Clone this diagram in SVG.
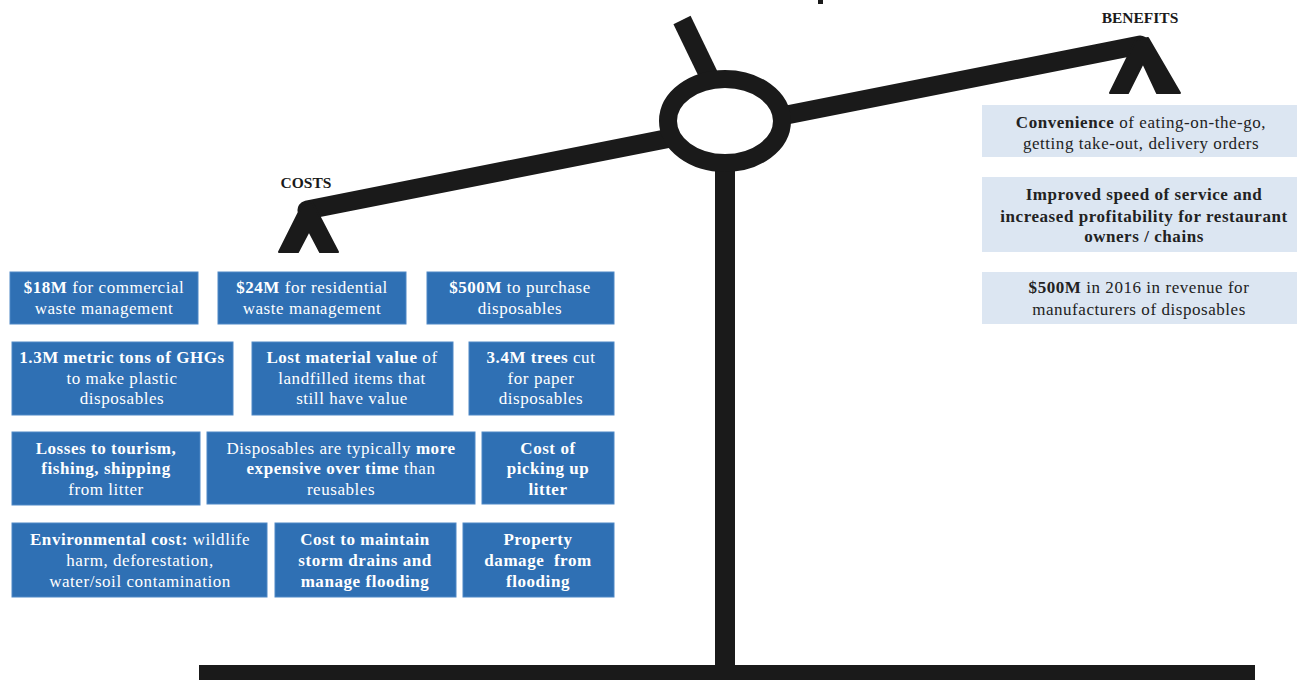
<svg xmlns="http://www.w3.org/2000/svg" width="1297" height="680" viewBox="0 0 1297 680">
<style>
.cb{fill:#2F70B4;stroke:#4F88C6;stroke-width:1}
.bb{fill:#DCE6F2}
.t{font-family:"Liberation Serif","Times New Roman",serif;font-size:17px;letter-spacing:0.55px;text-anchor:middle}
.w{fill:#ffffff}
.d{fill:#222222}
.b{font-weight:bold}
.lbl{font-family:"Liberation Serif","Times New Roman",serif;font-size:15.5px;font-weight:bold;fill:#1a1a1a;text-anchor:middle}
.ink{fill:#1a1a1a}
</style>
<rect width="1297" height="680" fill="#ffffff"/>
<g id="scale">
  <rect class="ink" x="818" y="0" width="5" height="4"/>
  <line x1="682" y1="20" x2="710" y2="78" stroke="#1a1a1a" stroke-width="19"/>
  <rect class="ink" x="715" y="160" width="20" height="510"/>
  <rect class="ink" x="199" y="665" width="1056" height="15"/>
  <line x1="307" y1="210" x2="1140" y2="45" stroke="#1a1a1a" stroke-width="19" stroke-linecap="round"/>
  <ellipse cx="725" cy="121" rx="57" ry="42" fill="#ffffff" stroke="#1a1a1a" stroke-width="18"/>
  <polygon class="ink" points="279,252 302,206 312,202 338,252 320,252 309,231 298,252" stroke="#1a1a1a" stroke-width="2" stroke-linejoin="round"/>
  <polygon class="ink" points="1110,93 1136,40 1148,38 1180,93 1157,93 1143,63 1128,93" stroke="#1a1a1a" stroke-width="2" stroke-linejoin="round"/>
  <text class="lbl" x="306" y="188">COSTS</text>
  <text class="lbl" x="1140" y="23">BENEFITS</text>
</g>
<g id="connectors"></g>
<g id="cost1"><rect class="cb" x="10" y="272" width="188" height="52"/>
  <text class="t w" x="104" y="293"><tspan class="b">$18M</tspan> for commercial</text>
  <text class="t w" x="104" y="314">waste management</text></g>
<g id="cost2"><rect class="cb" x="218" y="272" width="188" height="52"/>
  <text class="t w" x="312" y="293"><tspan class="b">$24M</tspan> for residential</text>
  <text class="t w" x="312" y="314">waste management</text></g>
<g id="cost3"><rect class="cb" x="427" y="272" width="187" height="52"/>
  <text class="t w" x="520" y="293"><tspan class="b">$500M</tspan> to purchase</text>
  <text class="t w" x="520" y="314">disposables</text></g>
<g id="cost4"><rect class="cb" x="12" y="342" width="221" height="73"/>
  <text class="t w b" x="122" y="363">1.3M metric tons of GHGs</text>
  <text class="t w" x="122" y="383.5">to make plastic</text>
  <text class="t w" x="122" y="404">disposables</text></g>
<g id="cost5"><rect class="cb" x="252" y="342" width="201" height="73"/>
  <text class="t w" x="352" y="363"><tspan class="b">Lost material value</tspan> of</text>
  <text class="t w" x="352" y="383.5">landfilled items that</text>
  <text class="t w" x="352" y="404">still have value</text></g>
<g id="cost6"><rect class="cb" x="469" y="342" width="145" height="73"/>
  <text class="t w" x="541" y="363"><tspan class="b">3.4M trees</tspan> cut</text>
  <text class="t w" x="541" y="383.5">for paper</text>
  <text class="t w" x="541" y="404">disposables</text></g>
<g id="cost7"><rect class="cb" x="12" y="432" width="188" height="73"/>
  <text class="t w b" x="106" y="453.5">Losses to tourism,</text>
  <text class="t w b" x="106" y="474">fishing, shipping</text>
  <text class="t w" x="106" y="494.5">from litter</text></g>
<g id="cost8"><rect class="cb" x="207" y="432" width="268" height="72"/>
  <text class="t w" x="341" y="453.5">Disposables are typically <tspan class="b">more</tspan></text>
  <text class="t w" x="341" y="474"><tspan class="b">expensive over time</tspan> than</text>
  <text class="t w" x="341" y="494.5">reusables</text></g>
<g id="cost9"><rect class="cb" x="482" y="432" width="132" height="72"/>
  <text class="t w b" x="548" y="453.5">Cost of</text>
  <text class="t w b" x="548" y="474">picking up</text>
  <text class="t w b" x="548" y="494.5">litter</text></g>
<g id="cost10"><rect class="cb" x="12" y="523" width="255" height="74"/>
  <text class="t w" x="140" y="544.5"><tspan class="b">Environmental cost:</tspan> wildlife</text>
  <text class="t w" x="140" y="566">harm, deforestation,</text>
  <text class="t w" x="140" y="587">water/soil contamination</text></g>
<g id="cost11"><rect class="cb" x="275" y="523" width="181" height="74"/>
  <text class="t w b" x="365" y="544.5">Cost to maintain</text>
  <text class="t w b" x="365" y="566">storm drains and</text>
  <text class="t w b" x="365" y="587">manage flooding</text></g>
<g id="cost12"><rect class="cb" x="463" y="523" width="151" height="74"/>
  <text class="t w b" x="538" y="544.5">Property</text>
  <text class="t w b" x="538" y="566">damage&#160; from</text>
  <text class="t w b" x="538" y="587">flooding</text></g>
<g id="benefit1"><rect class="bb" x="982" y="105" width="315" height="52"/>
  <text class="t d" x="1141" y="128"><tspan class="b">Convenience</tspan> of eating-on-the-go,</text>
  <text class="t d" x="1141" y="149">getting take-out, delivery orders</text></g>
<g id="benefit2"><rect class="bb" x="982" y="177" width="315" height="75"/>
  <text class="t d b" x="1144" y="200">Improved speed of service and</text>
  <text class="t d b" x="1144" y="221.5">increased profitability for restaurant</text>
  <text class="t d b" x="1144" y="242">owners / chains</text></g>
<g id="benefit3"><rect class="bb" x="982" y="272" width="315" height="52"/>
  <text class="t d" x="1139" y="293"><tspan class="b">$500M</tspan> in 2016 in revenue for</text>
  <text class="t d" x="1139" y="315">manufacturers of disposables</text></g>
</svg>
